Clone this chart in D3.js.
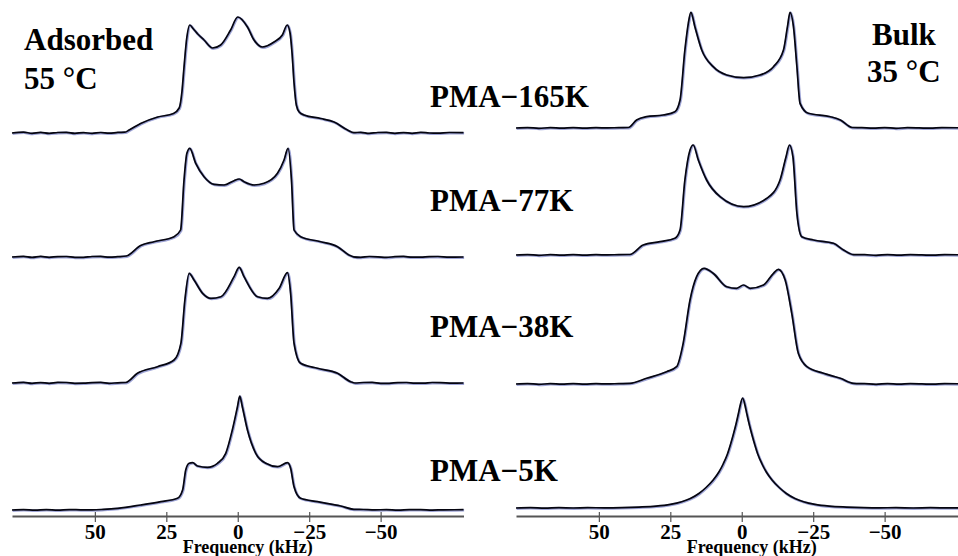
<!DOCTYPE html>
<html><head><meta charset="utf-8">
<script src="https://cdn.jsdelivr.net/npm/d3@7"></script>
<style>html,body{margin:0;padding:0;background:#fff;overflow:hidden}</style>
</head><body>
<svg id="chart" width="958" height="556"></svg>
<script>
// ---- data: [frequency (kHz), intensity (a.u.)] ----
const ads165 = [[79,0],[75,0.8],[72,-0.3],[69,0.6],[66,-0.4],[63,0.5],[60,0.7],[57,-0.3],[54,0.4],[51,-0.4],[48,0.5],[45,-0.2],[42,0.6],[39.5,0.8],[38,3],[34,9.5],[28,16],[22.5,19.5],[20.5,25],[19.5,42],[18.8,66],[17.8,96],[16.8,108],[15.5,104],[14,99],[11.8,93],[8.8,85],[6,88],[2.5,103],[0,116],[-3.4,106],[-5.7,93],[-8.6,86],[-12.7,91],[-15.6,98],[-17.3,108],[-18.3,100],[-19,80],[-19.7,50],[-20.5,28],[-21.5,21],[-23.2,18],[-29,14.5],[-33.7,11],[-38.4,3],[-40.6,0.3],[-43,0.7],[-46,-0.4],[-49,0.5],[-52,0.6],[-55,-0.3],[-58,0.4],[-61,-0.3],[-64,0.6],[-67,0],[-70,-0.2],[-74,0.5],[-79,0.3]];
const ads77 = [[79,0],[75,0.6],[72,-0.4],[69,0.6],[66,-0.3],[63,0.4],[60,0.5],[57,-0.4],[54,-0.4],[51,0.5],[48,0.6],[45,-0.2],[42,0.3],[39,1],[34,11.5],[29.3,15.3],[22.3,20.3],[20,27],[18.8,77],[17.8,103.7],[16.8,108.7],[14.7,93.7],[11.8,80.3],[8.3,72.7],[4.8,72],[1.3,76.3],[-0.5,78],[-2.2,75.3],[-5.7,72],[-9.2,73.7],[-13.9,83.7],[-16.2,97],[-17.6,108.7],[-18.8,77],[-19.7,27],[-22,20.3],[-29,15.3],[-34.9,10.3],[-38.9,2],[-40.5,0.2],[-43,-0.3],[-46,0.5],[-49,0.2],[-52,-0.4],[-55,0.3],[-58,0.6],[-61,-0.2],[-64,-0.2],[-67,0.4],[-70,0.5],[-74,-0.2],[-79,0]];
const ads38 = [[79,0],[75,0.7],[72,-0.3],[69,0.4],[66,-0.3],[63,0.6],[60,0.5],[57,-0.3],[54,-0.2],[51,0.4],[48,0.6],[45,-0.3],[42,0.2],[39.2,0.5],[35.1,9.7],[28.1,16.3],[22.3,23],[19.9,39.7],[18.5,83],[17,109.7],[15.3,103],[12.3,89.7],[9.4,84.7],[5.9,86.3],[1.3,106.3],[-0.5,115.7],[-2.2,106.3],[-6.9,86.3],[-10.4,84.7],[-14.5,94.7],[-17.4,110.3],[-18.5,89.7],[-19.7,39.7],[-22,19.7],[-27.9,14.7],[-34.9,9.7],[-39.5,1.3],[-41,0],[-44,0.5],[-47,0.6],[-50,-0.3],[-53,-0.3],[-56,0.4],[-59,0.5],[-62,-0.2],[-65,-0.2],[-68,0.5],[-71,0.4],[-75,-0.2],[-79,0]];
const ads5 = [[79,0],[75,0.4],[71,-0.2],[67,0.3],[63,-0.2],[59,0.4],[55,0.2],[51,0.1],[47,0.6],[42,1.7],[33.9,5],[26.9,8.3],[21.1,11.7],[19.3,20],[18.2,40],[17,46.7],[15.8,47.3],[14.1,44],[10.6,42.7],[7.1,46.7],[4.2,56.7],[1.9,80],[0.1,103.3],[-0.7,114],[-1.6,103.3],[-3.4,80],[-6.3,56.7],[-9.8,46.7],[-13.9,43.3],[-17.4,47.3],[-18.5,41.7],[-19.7,23.3],[-22,11.7],[-27.9,8.3],[-36,4],[-40.6,0.7],[-44,0.5],[-48,0.1],[-52,0.4],[-56,-0.2],[-60,0.3],[-64,0.4],[-68,-0.1],[-72,0.2],[-79,0.3]];
const bulk165 = [[79,0],[75,0.4],[71,-0.3],[67,0.3],[63,-0.2],[59,0.4],[55,-0.2],[51,0.3],[47,0.1],[43,0.4],[39.7,0.5],[36.8,8],[33.3,11.3],[27.5,13],[23.4,16.3],[21.6,28],[19.9,78],[18.7,104.7],[17.8,115.7],[16.4,101.3],[14,78],[10,61.3],[5.3,53],[-0.6,50.3],[-6.4,53],[-11.1,61.3],[-14.6,78],[-16,101.3],[-16.9,115.7],[-18.1,101.3],[-19.3,61.3],[-20.4,24.7],[-23.3,14.7],[-31,11.3],[-34.5,8],[-38.6,0.5],[-42,0.3],[-46,-0.2],[-50,0.4],[-54,-0.3],[-58,0.3],[-62,0.1],[-66,-0.2],[-70,0.3],[-79,0.2]];
const bulk77 = [[79,0],[75,0.4],[71,-0.3],[67,0.3],[63,-0.2],[59,0.4],[55,-0.2],[51,0.3],[47,0.1],[43,0.4],[39.2,0.5],[34.5,10],[28.6,13.3],[23.4,16.7],[21.6,25],[19.9,75],[18.1,105],[17,110],[15.2,95],[12.3,75],[7.6,58.3],[-0.6,48.3],[-8.8,56.7],[-13.4,75],[-15.5,98.3],[-16.7,110],[-17.9,98.3],[-19.3,41.7],[-21,18.3],[-25.1,15],[-32.1,11.7],[-35.6,5],[-39.1,0.4],[-43,0.3],[-47,-0.3],[-51,0.4],[-55,-0.2],[-59,0.3],[-63,0.1],[-67,-0.2],[-71,0.3],[-79,0.2]];
const bulk38 = [[79,0],[75,0.4],[71,-0.3],[67,0.3],[63,-0.2],[59,0.4],[55,-0.2],[51,0.3],[47,0.1],[43,0.4],[39.2,0.6],[33.3,5.7],[26.3,12.3],[22.8,17.3],[20.5,40.7],[18.1,84],[15.8,107.3],[13.2,115.7],[10,110.7],[5.3,97.3],[1.8,95.7],[-0.6,99],[-2.9,95.7],[-7.6,99],[-11.1,110.7],[-12.8,114.7],[-15.2,104],[-17.5,70.7],[-19.8,30.7],[-22.8,17.3],[-28.6,10.7],[-34.5,5.7],[-39.1,0.7],[-43,0.3],[-47,-0.3],[-51,0.4],[-55,-0.2],[-59,0.3],[-63,0.1],[-67,-0.2],[-71,0.3],[-79,0.2]];
const bulk5 = [[79,0],[74,0.3],[69,-0.1],[64,0.3],[59,0],[54,0.3],[48,0.2],[42,0.4],[36,0.9],[30,1.8],[25,3.6],[21,6.3],[18,9.5],[15,14.5],[12.5,20.5],[10,28],[8,36],[6.5,44],[5,54],[4,63],[3,73],[2,84],[1.2,94],[0.6,102],[-0.3,110],[-1.2,102],[-1.8,94],[-2.6,84],[-3.6,73],[-4.6,63],[-5.6,54],[-7.1,44],[-8.6,36],[-10.6,28],[-13.1,20.5],[-15.6,14.5],[-18.6,9.5],[-21.6,6.3],[-25.6,3.6],[-30.6,1.8],[-36.6,0.9],[-42.6,0.4],[-48,0.2],[-54,0.3],[-60,0],[-66,0.3],[-72,0.1],[-79,0]];

const adsorbedSeries = [ads165, ads77, ads38, ads5];
const bulkSeries = [bulk165, bulk77, bulk38, bulk5];
const sampleLabels = ["PMA\u2212165K", "PMA\u221277K", "PMA\u221238K", "PMA\u22125K"];
const tickValues = [50, 25, 0, -25, -50];
const tickLabels = ["50", "25", "0", "\u221225", "\u221250"];
const freqDomain = [79, -79];

// ---- layout ----
const svg = d3.select("#chart");
const FONT = "'Liberation Serif','Times New Roman',serif";
const panels = [
  {series: adsorbedSeries, range: [12, 463.5], baselines: [133, 257, 383, 510], axisY: 516},
  {series: bulkSeries, range: [516, 967.5], baselines: [128, 255, 384, 508], axisY: 516}
];

panels.forEach(p => {
  const x = d3.scaleLinear().domain(freqDomain).range(p.range);
  p.series.forEach((data, i) => {
    const base = p.baselines[i];
    const y = d3.scaleLinear().domain([0, 120]).range([base, base - 120]);
    const line = d3.line().x(d => x(d[0])).y(d => y(d[1])).curve(d3.curveMonotoneX);
    const g = svg.append("g");
    g.append("path").datum(data).attr("d", line)
      .attr("fill", "none").attr("stroke", "#7d86c8").attr("stroke-width", 2.6)
      .attr("stroke-opacity", 0.75).attr("transform", "translate(0.6,0.6)");
    g.append("path").datum(data).attr("d", line)
      .attr("fill", "none").attr("stroke", "#05050f").attr("stroke-width", 1.7);
  });
  const axis = d3.axisBottom(x).tickValues(tickValues)
    .tickFormat((d, i) => tickLabels[i]).tickSize(6).tickSizeOuter(0).tickPadding(2);
  const ag = svg.append("g").attr("transform", `translate(0,${p.axisY})`).call(axis);
  ag.select(".domain").attr("stroke", "#555").attr("stroke-width", 1.8);
  ag.selectAll(".tick line").attr("stroke", "#555").attr("stroke-width", 1.2).attr("y1", -4);
  ag.selectAll(".tick text").attr("fill", "#000").style("font-family", FONT)
    .style("font-weight", "bold").style("font-size", "21px");
  const cx = x(0) + 10;
  svg.append("text").attr("x", cx).attr("y", 553)
    .attr("text-anchor", "middle").style("font-family", FONT).style("font-weight", "bold")
    .style("font-size", "18px").text("Frequency (kHz)");
});

function label(txt, x, y, size) {
  svg.append("text").attr("x", x).attr("y", y)
    .style("font-family", FONT)
    .style("font-weight", "bold").style("font-size", size + "px").text(txt);
}
label("Adsorbed", 24, 50, 31);
label("55 \u00b0C", 24, 89, 31);
label("Bulk", 872, 45, 31);
label("35 \u00b0C", 867, 82, 31);
const labelYs = [107, 211, 337, 481];
sampleLabels.forEach((t, i) => label(t, 430, labelYs[i], 31));
</script>
</body></html>
